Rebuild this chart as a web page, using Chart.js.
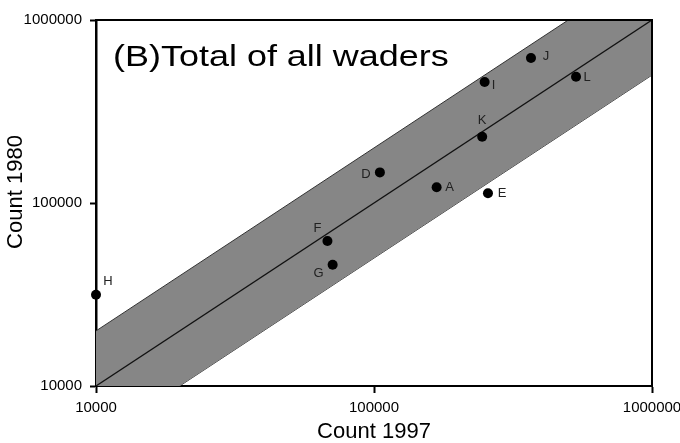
<!DOCTYPE html>
<html>
<head>
<meta charset="utf-8">
<script src="https://cdn.jsdelivr.net/npm/chart.js@4.4.0/dist/chart.umd.min.js"></script>
<style>
  html, body { margin: 0; padding: 0; background: #fff; }
</style>
</head>
<body>
<canvas id="chart" width="680" height="443"></canvas>
<script>
// ─── Data ────────────────────────────────────────────────────────────────────
const SITE_LABELS = ['A', 'D', 'E', 'F', 'G', 'H', 'I', 'J', 'K', 'L'];
const COUNT_1997  = [168000, 105000, 257000, 68000, 71000, 10000, 250000, 367000, 245000, 533000];
const COUNT_1980  = [122000, 147000, 113000, 62000, 46000, 31500, 458000, 620000, 230000, 490000];

const TICK_VALUES = [10000, 100000, 1000000];

// 1:1 line and the ×2 / ÷2 band around it
const LINE_X   = [10000, 1000000];
const CENTER_Y = [10000, 1000000];
const UPPER_Y  = [20000, 2000000];
const LOWER_Y  = [5000, 500000];

const FONT = 'Liberation Sans, Arial, Helvetica, sans-serif';

// label placement around each dot (px), keyed by site letter
const LABEL_OFFSETS = {
  A: [13, 0], D: [-14, 2], E: [14, 0], F: [-10, -13], G: [-14, 9],
  H: [12, -13], I: [9, 3], J: [15, -2], K: [0, -16], L: [11, 1]
};

const toPoints = (xs, ys) => xs.map((x, i) => ({ x, y: ys[i] }));

// ─── Plugins ─────────────────────────────────────────────────────────────────
const framePlugin = {
  id: 'frame',
  afterDatasetsDraw(chart) {
    const { ctx, chartArea: a } = chart;
    ctx.save();
    ctx.strokeStyle = '#000';
    ctx.lineWidth = 2;
    ctx.beginPath();
    ctx.moveTo(a.left, a.top);
    ctx.lineTo(a.right, a.top);
    ctx.lineTo(a.right, a.bottom);
    ctx.stroke();
    ctx.restore();
  }
};

const pointLabelsPlugin = {
  id: 'pointLabels',
  afterDatasetsDraw(chart) {
    const meta = chart.getDatasetMeta(0);
    const { ctx } = chart;
    ctx.save();
    ctx.font = '13px ' + FONT;
    ctx.fillStyle = '#222';
    ctx.textAlign = 'center';
    ctx.textBaseline = 'middle';
    meta.data.forEach((pt, i) => {
      const name = SITE_LABELS[i];
      const [dx, dy] = LABEL_OFFSETS[name] || [10, 0];
      ctx.fillText(name, pt.x + dx, pt.y + dy);
    });
    ctx.restore();
  }
};

// panel title + y axis title (the y title sits a bit above the plot centre)
const textPlugin = {
  id: 'texts',
  afterDraw(chart) {
    const { ctx, chartArea: a } = chart;
    ctx.save();
    ctx.translate(a.left + 17, a.top + 46);
    ctx.scale(1.24, 1);
    ctx.font = '29px ' + FONT;
    ctx.fillStyle = '#000';
    ctx.textBaseline = 'alphabetic';
    ctx.fillText('(B)Total of all waders', 0, 0);
    ctx.restore();

    ctx.save();
    ctx.translate(16, 192);
    ctx.rotate(-Math.PI / 2);
    ctx.font = '22px ' + FONT;
    ctx.fillStyle = '#000';
    ctx.textAlign = 'center';
    ctx.textBaseline = 'middle';
    ctx.fillText('Count 1980', 0, 0);
    ctx.restore();
  }
};

// ─── Chart ───────────────────────────────────────────────────────────────────
const setTicks = scale => { scale.ticks = TICK_VALUES.map(v => ({ value: v })); };

new Chart(document.getElementById('chart'), {
  type: 'scatter',
  data: {
    datasets: [
      {
        label: 'Sites',
        data: toPoints(COUNT_1997, COUNT_1980),
        backgroundColor: '#000',
        borderColor: '#000',
        pointRadius: 5,
        pointBorderWidth: 0,
        clip: false,
        order: 0
      },
      {
        label: '1:1',
        data: toPoints(LINE_X, CENTER_Y),
        showLine: true,
        borderColor: '#111',
        borderWidth: 1.3,
        pointRadius: 0,
        order: 1
      },
      {
        label: 'upper',
        data: toPoints(LINE_X, UPPER_Y),
        showLine: true,
        borderColor: '#333',
        borderWidth: 1,
        pointRadius: 0,
        backgroundColor: '#868686',
        fill: '+1',
        order: 2
      },
      {
        label: 'lower',
        data: toPoints(LINE_X, LOWER_Y),
        showLine: true,
        borderColor: '#333',
        borderWidth: 1,
        pointRadius: 0,
        order: 3
      }
    ]
  },
  options: {
    responsive: false,
    animation: false,
    devicePixelRatio: 1,
    layout: { padding: { left: 0, right: 28, top: 20, bottom: 0 } },
    plugins: {
      legend: { display: false },
      tooltip: { enabled: false }
    },
    scales: {
      x: {
        type: 'logarithmic',
        position: 'bottom',
        min: 10000,
        max: 1000000,
        afterBuildTicks: setTicks,
        afterFit(s) { s.height = 57; s.paddingLeft = 0; s.paddingRight = 0; },
        grid: { drawOnChartArea: false, drawTicks: true, tickLength: 7, tickColor: '#000', tickWidth: 2 },
        border: { display: true, color: '#000', width: 2 },
        ticks: {
          color: '#000', padding: 6, maxRotation: 0, autoSkip: false,
          font: { family: FONT, size: 15 },
          callback: v => String(v)
        },
        title: {
          display: true, text: 'Count 1997', color: '#000',
          font: { family: FONT, size: 22, lineHeight: 1 },
          padding: { top: 0, bottom: 0 }
        }
      },
      y: {
        type: 'logarithmic',
        position: 'left',
        min: 10000,
        max: 1000000,
        afterBuildTicks: setTicks,
        afterFit(s) { s.width = 96; s.paddingTop = 0; s.paddingBottom = 0; },
        grid: { drawOnChartArea: false, drawTicks: true, tickLength: 6, tickColor: '#000', tickWidth: 2 },
        border: { display: true, color: '#000', width: 2.5 },
        ticks: {
          color: '#000', padding: 8, autoSkip: false,
          font: { family: FONT, size: 15 },
          callback: v => String(v)
        },
        title: { display: false }
      }
    }
  },
  plugins: [framePlugin, pointLabelsPlugin, textPlugin]
});
</script>
</body>
</html>
